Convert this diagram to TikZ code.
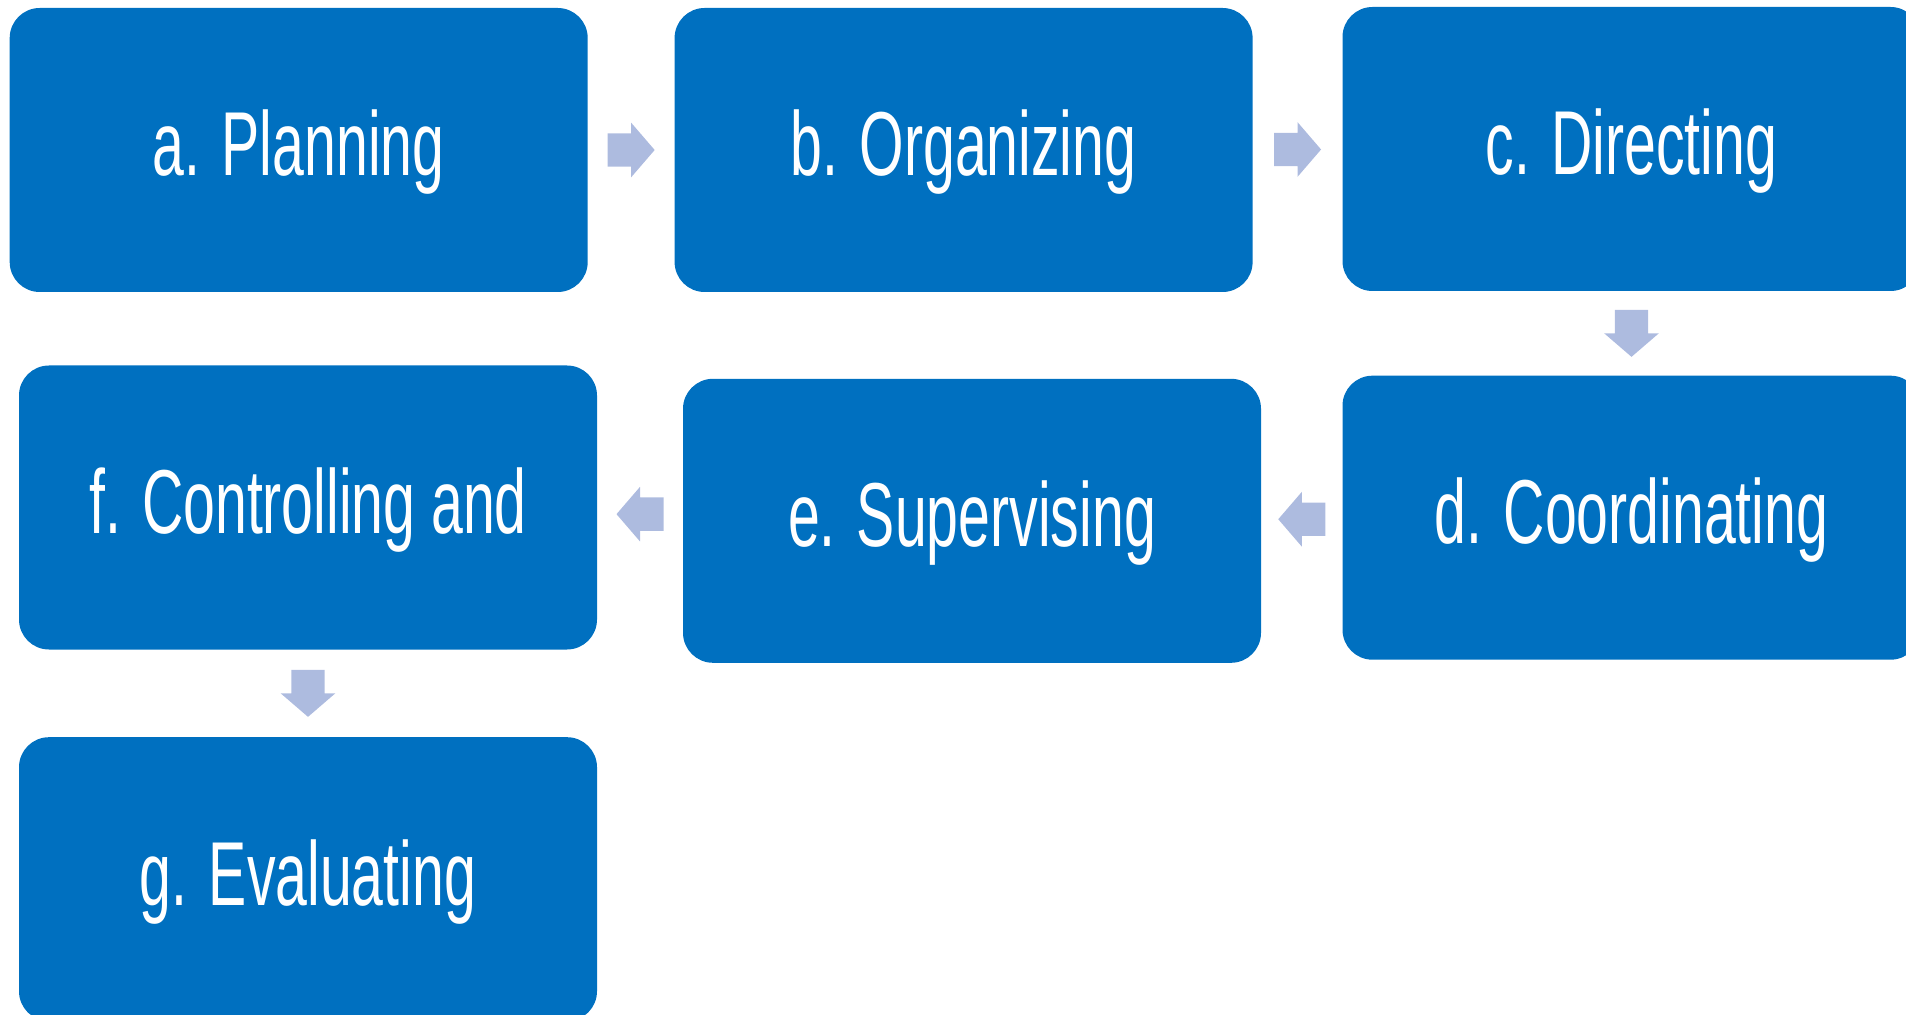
\documentclass[tikz,border=0pt]{standalone}
\usepackage{fontspec}
\setmainfont{Liberation Sans}[FakeStretch=0.63]
\usetikzlibrary{calc}
\definecolor{boxblue}{RGB}{0,112,192}
\definecolor{arrowblue}{RGB}{173,187,223}
\tikzset{
  stepbox/.style={rectangle, rounded corners=15pt, fill=boxblue, draw=none,
    minimum width=289pt, minimum height=142pt, inner sep=0pt, outer sep=0pt,
    text=white, font=\fontsize{45.4}{50}\selectfont, text height=26pt, text depth=0pt},
  blockarrow/.style={fill=arrowblue, draw=none}
}
\newcommand{\flowarrow}[2]{%
  \fill[blockarrow, shift={(#1)}, rotate=#2]
    (-23.5,-16.7) -- (0,-16.7) -- (0,-27.3) -- (23.5,0) -- (0,27.3) -- (0,16.7) -- (-23.5,16.7) -- cycle;}
\begin{document}
\begin{tikzpicture}[x=0.5pt,y=-0.5pt]
\useasboundingbox (0,0) rectangle (1906,1015);
\clip (0,0) rectangle (1906,1015);
\node[stepbox] (a) at (298.7,150) {a. Planning};
\node[stepbox] (b) at (963.6,150) {b. Organizing};
\node[stepbox] (c) at (1631.5,149) {c. Directing};
\node[stepbox] (d) at (1631.5,517.7) {d. Coordinating};
\node[stepbox] (e) at (972,520.8) {e. Supervising};
\node[stepbox] (f) at (308,507.5) {f. Controlling and};
\node[stepbox] (g) at (308,879.2) {g. Evaluating};
\coordinate (ab) at ($(a.east)!0.5!(b.west)$);
\coordinate (bc) at ($(b.east)!0.5!(c.west)$);
\coordinate (cd) at ($(c.south)!0.5!(d.north)$);
\coordinate (de) at ($(d.west)!0.5!(e.east)$);
\coordinate (ef) at ($(e.west)!0.5!(f.east)$);
\coordinate (fg) at ($(f.south)!0.5!(g.north)$);
\flowarrow{ab}{0}
\flowarrow{bc}{0}
\flowarrow{cd}{-90}
\flowarrow{de}{180}
\flowarrow{ef}{180}
\flowarrow{fg}{-90}
\end{tikzpicture}
\end{document}
